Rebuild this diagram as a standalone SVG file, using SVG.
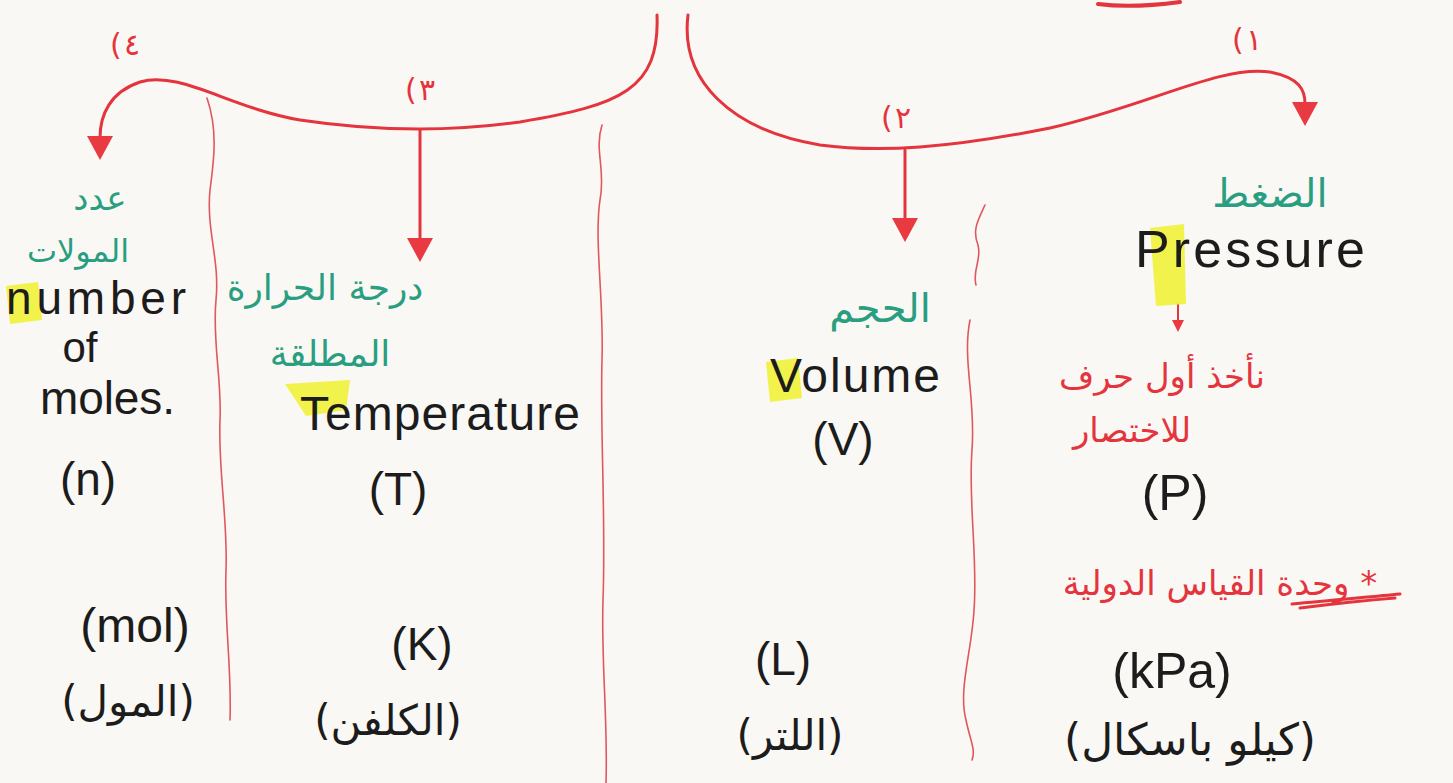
<svg xmlns="http://www.w3.org/2000/svg" width="1453" height="783" viewBox="0 0 1453 783">
<defs>
<marker id="ah" markerUnits="userSpaceOnUse" markerWidth="30" markerHeight="26" refX="2" refY="13" orient="auto" viewBox="0 0 30 26">
<path d="M0,0 L24,13 L0,26 Z" fill="#e83a40"/>
</marker>
<marker id="ahs" markerUnits="userSpaceOnUse" markerWidth="14" markerHeight="12" refX="2" refY="6" orient="auto" viewBox="0 0 14 12">
<path d="M0,0 L12,6 L0,12 Z" fill="#e83a40"/>
</marker>
<style>
.red{fill:#e4343d;font-family:"DejaVu Sans",sans-serif}
.grn{fill:#2a9e80;font-family:"DejaVu Sans",sans-serif}
.blk{fill:#1c1c1c;font-family:"Liberation Sans",Arial,sans-serif}
.ar{fill:#1c1c1c;font-family:"DejaVu Sans",sans-serif}
.con{fill:none;stroke:#e4343d;stroke-width:3;stroke-linecap:round}
.sep{fill:none;stroke:#e0575e;stroke-width:1.6;stroke-linecap:round}
.hl{fill:#f1f13a;opacity:0.9}
.num{fill:#e4343d;font-family:"DejaVu Sans",sans-serif;font-size:30px}
</style>
</defs>
<rect width="1453" height="783" fill="#faf8f4"/>

<g id="connectors">
<path class="con" d="M657 15 C660 90 620 105 520 122 C450 132 380 132 300 120 C230 108 180 70 140 82 C110 92 100 115 100 138" marker-end="url(#ah)"/>
<path class="con" d="M420 130 L420 240" marker-end="url(#ah)"/>
<path class="con" d="M688 15 C680 80 730 130 820 145 C880 153 950 148 1050 128 C1150 105 1220 65 1270 72 C1300 78 1305 90 1305 104" marker-end="url(#ah)"/>
<path class="con" d="M905 150 L905 220" marker-end="url(#ah)"/>
<path class="con" style="stroke-width:2" d="M1178 304 L1178 322" marker-end="url(#ahs)"/>
</g>

<g id="dividers">
<path class="sep" d="M207 98 C218 130 214 160 210 190 C206 230 220 260 216 300 C212 340 222 380 220 420 C218 470 228 520 226 570 C224 620 232 670 230 720"/>
<path class="sep" d="M602 125 C594 150 606 170 600 200 C594 240 604 300 602 360 C600 430 606 520 603 600 C601 660 608 720 606 783"/>
<path class="sep" d="M985 205 C978 220 972 230 978 245 C982 260 972 270 976 285 M970 320 C962 360 976 400 972 450 C968 500 978 560 974 610 C972 650 958 690 966 720 C970 740 976 750 972 760"/>
</g>

<g id="top-mark">
<path d="M1098 4 C1120 7 1150 6 1180 2" fill="none" stroke="#e4343d" stroke-width="4" stroke-linecap="round"/>
</g>

<g id="labels-num">
<text class="num" x="110" y="55">(</text><text class="num" x="124" y="55">٤</text>
<text class="num" x="405" y="100">(</text><text class="num" x="419" y="100">٣</text>
<text class="num" x="881" y="128">(</text><text class="num" x="895" y="128">٢</text>
<text class="num" x="1232" y="50">(</text><text class="num" x="1246" y="50">١</text>
</g>

<g id="node-moles">
<path class="hl" d="M6 286 L38 282 L42 320 L10 324 Z"/>
<text class="grn" x="100" y="210" font-size="34" text-anchor="middle">عدد</text>
<text class="grn" x="78" y="262" font-size="32" text-anchor="middle">المولات</text>
<text class="blk" x="6" y="314" font-size="46" textLength="180">number</text>
<text class="blk" x="80" y="362" font-size="42" text-anchor="middle">of</text>
<text class="blk" x="40" y="414" font-size="46" textLength="135">moles.</text>
<text class="blk" x="88" y="495" font-size="46" text-anchor="middle">(n)</text>
<text class="blk" x="135" y="642" font-size="48" text-anchor="middle">(mol)</text>
<text class="ar" x="128" y="716" font-size="42" text-anchor="middle">(المول)</text>
</g>

<g id="node-temperature">
<path class="hl" d="M285 384 L350 380 L346 410 L306 416 Z"/>
<text class="grn" x="325" y="300" font-size="36" text-anchor="middle">درجة الحرارة</text>
<text class="grn" x="330" y="366" font-size="36" text-anchor="middle">المطلقة</text>
<text class="blk" x="300" y="430" font-size="48" textLength="280">Temperature</text>
<text class="blk" x="398" y="505" font-size="46" text-anchor="middle">(T)</text>
<text class="blk" x="422" y="660" font-size="46" text-anchor="middle">(K)</text>
<text class="ar" x="388" y="735" font-size="42" text-anchor="middle">(الكلفن)</text>
</g>

<g id="node-volume">
<path class="hl" d="M766 362 L798 358 L802 398 L770 402 Z"/>
<text class="grn" x="880" y="322" font-size="40" text-anchor="middle">الحجم</text>
<text class="blk" x="770" y="392" font-size="48" textLength="170">Volume</text>
<text class="blk" x="843" y="455" font-size="46" text-anchor="middle">(V)</text>
<text class="blk" x="783" y="675" font-size="46" text-anchor="middle">(L)</text>
<text class="ar" x="790" y="750" font-size="42" text-anchor="middle">(اللتر)</text>
</g>

<g id="node-pressure">
<path class="hl" d="M1150 228 L1184 224 L1186 304 L1156 306 Z"/>
<text class="grn" x="1270" y="207" font-size="40" text-anchor="middle">الضغط</text>
<text class="blk" x="1135" y="267" font-size="52" textLength="230">Pressure</text>
<text class="red" x="1162" y="388" font-size="34" text-anchor="middle">نأخذ أول حرف</text>
<text class="red" x="1132" y="442" font-size="34" text-anchor="middle">للاختصار</text>
<text class="blk" x="1175" y="510" font-size="50" text-anchor="middle">(P)</text>
<text class="red" x="1220" y="595" font-size="34" text-anchor="middle" direction="rtl">* وحدة القياس الدولية</text>
<path d="M1292 604 C1330 600 1370 597 1400 594 M1300 608 C1340 603 1370 600 1395 598" fill="none" stroke="#e4343d" stroke-width="3" stroke-linecap="round"/>
<text class="blk" x="1172" y="688" font-size="50" text-anchor="middle">(kPa)</text>
<text class="ar" x="1190" y="755" font-size="44" text-anchor="middle">(كيلو باسكال)</text>
</g>
</svg>
